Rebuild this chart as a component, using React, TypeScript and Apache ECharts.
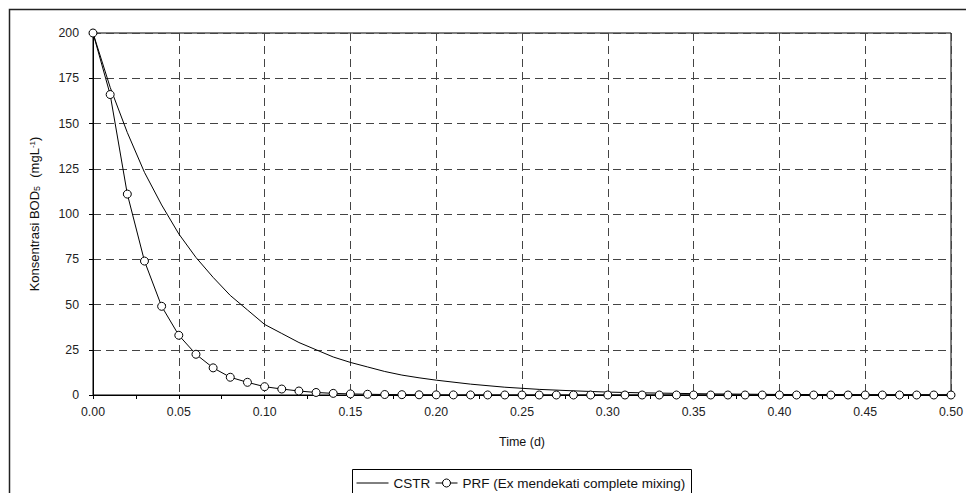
import React, { useEffect, useRef } from "react";
import * as echarts from "echarts";

const timeCSTR = [0, 0.01, 0.02, 0.03, 0.04, 0.05, 0.06, 0.07, 0.08, 0.09, 0.1, 0.11, 0.12, 0.13, 0.14, 0.15, 0.16, 0.17, 0.18, 0.19, 0.2, 0.22, 0.24, 0.26, 0.28, 0.3, 0.32, 0.34, 0.36, 0.38, 0.4, 0.42, 0.44, 0.46, 0.48, 0.5];
const valuesCSTR = [200, 170, 145, 123, 105, 89, 76, 65, 55, 47, 39, 34, 29, 25, 21, 18, 15.5, 13, 11, 9.5, 8.2, 6, 4.3, 3.1, 2.3, 1.6, 1.2, 0.9, 0.6, 0.45, 0.3, 0.25, 0.2, 0.15, 0.1, 0.07];

const timePRF = [0, 0.01, 0.02, 0.03, 0.04, 0.05, 0.06, 0.07, 0.08, 0.09, 0.1, 0.11, 0.12, 0.13, 0.14, 0.15, 0.16, 0.17, 0.18, 0.19, 0.2, 0.21, 0.22, 0.23, 0.24, 0.25, 0.26, 0.27, 0.28, 0.29, 0.3, 0.31, 0.32, 0.33, 0.34, 0.35, 0.36, 0.37, 0.38, 0.39, 0.4, 0.41, 0.42, 0.43, 0.44, 0.45, 0.46, 0.47, 0.48, 0.49, 0.5];
const valuesPRF = [200, 166, 111, 74, 49, 33, 22.5, 15, 9.8, 7, 4.6, 3.3, 2.2, 1.4, 0.9, 0.6, 0.4, 0.27, 0.18, 0.12, 0.08, 0.05, 0.04, 0.03, 0.02, 0.01, 0.01, 0, 0, 0, 0, 0, 0, 0, 0, 0, 0, 0, 0, 0, 0, 0, 0, 0, 0, 0, 0, 0, 0, 0, 0];

const seriesNames = ["CSTR", "PRF (Ex mendekati complete mixing)"];
const xTitle = "Time (d)";

const FONT = "'Liberation Sans', Arial, sans-serif";

export default function App() {
  const ref = useRef<HTMLDivElement>(null);
  useEffect(() => {
    const chart = echarts.init(ref.current!, null, { renderer: "svg" });
    const grid = "#444";
    chart.setOption({
      animation: false,
      backgroundColor: "#fff",
      textStyle: { fontFamily: FONT, color: "#111" },
      grid: {
        left: 93,
        top: 33,
        right: 15,
        bottom: 98,
        show: true,
        borderColor: "#000",
        borderWidth: 1,
        backgroundColor: "transparent",
      },
      xAxis: {
        type: "value",
        min: 0,
        max: 0.5,
        interval: 0.05,
        name: xTitle,
        nameLocation: "middle",
        nameGap: 40,
        nameTextStyle: { fontSize: 12.5, color: "#111", fontFamily: FONT },
        axisLine: { show: true, lineStyle: { color: "#000", width: 1 } },
        axisTick: { show: true, inside: false, length: 4, lineStyle: { color: "#000" } },
        minorTick: { show: true, splitNumber: 2, length: 4, lineStyle: { color: "#000" } },
        axisLabel: {
          margin: 11,
          fontSize: 12.3,
          color: "#222",
          fontFamily: FONT,
          formatter: (v: number) => v.toFixed(2),
        },
        splitLine: { show: true, lineStyle: { color: grid, type: [8, 5], width: 1 } },
      },
      yAxis: {
        type: "value",
        min: 0,
        max: 200,
        interval: 25,
        name: "{a|Konsentrasi BOD}{sub|5}{a|  (mgL}{sup|-1}{a|)}",
        nameLocation: "middle",
        nameGap: 52,
        nameTextStyle: {
          fontFamily: FONT,
          color: "#111",
          rich: {
            a: { fontSize: 13, fontFamily: FONT, color: "#111" },
            sub: { fontSize: 9, fontFamily: FONT, color: "#111", verticalAlign: "bottom", padding: [0, 1, 0, 0] },
            sup: { fontSize: 8, fontFamily: FONT, color: "#111", verticalAlign: "top" },
          },
        },
        axisLine: { show: true, lineStyle: { color: "#000", width: 1 } },
        axisTick: { show: true, inside: false, length: 4, lineStyle: { color: "#000" } },
        axisLabel: { margin: 14, fontSize: 12.3, color: "#222", fontFamily: FONT },
        splitLine: { show: true, lineStyle: { color: grid, type: [8, 5], width: 1 } },
      },
      legend: [
        {
          data: [seriesNames[0]],
          left: 356,
          top: 476,
          itemWidth: 32,
          itemHeight: 10,
          itemGap: 0,
          padding: 0,
          lineStyle: { width: 1, color: "#000" },
          itemStyle: { color: "transparent", borderColor: "transparent", borderWidth: 0, opacity: 0 },
          textStyle: { fontSize: 13.5, fontFamily: FONT, color: "#111" },
        },
        {
          data: [seriesNames[1]],
          left: 435,
          top: 476,
          itemWidth: 22,
          itemHeight: 10,
          padding: 0,
          lineStyle: { width: 1, color: "#000" },
          itemStyle: { color: "#fff", borderColor: "#000", borderWidth: 1 },
          textStyle: { fontSize: 13.5, fontFamily: FONT, color: "#111" },
        },
      ],
      graphic: [
        {
          type: "rect",
          shape: { x: 9.5, y: 9.5, width: 1000, height: 1000 },
          style: { fill: "none", stroke: "#222", lineWidth: 1.5 },
          silent: true,
          z: 0,
        },
        {
          type: "rect",
          shape: { x: 352.5, y: 469.5, width: 339, height: 40 },
          style: { fill: "none", stroke: "#000", lineWidth: 1 },
          silent: true,
          z: 0,
        },
      ],
      series: [
        {
          name: seriesNames[0],
          type: "line",
          data: timeCSTR.map((t, i) => [t, valuesCSTR[i]]),
          symbol: "none",
          smooth: false,
          lineStyle: { color: "#000", width: 1 },
          itemStyle: { color: "#000" },
          z: 3,
        },
        {
          name: seriesNames[1],
          type: "line",
          data: timePRF.map((t, i) => [t, valuesPRF[i]]),
          symbol: "circle",
          symbolSize: 8,
          showSymbol: true,
          smooth: false,
          lineStyle: { color: "#000", width: 1 },
          itemStyle: { color: "#fff", borderColor: "#000", borderWidth: 1 },
          z: 4,
        },
      ],
    });
    return () => chart.dispose();
  }, []);
  return <div ref={ref} style={{ position: "fixed", left: 0, top: 0, width: 966, height: 493 }} />;
}
